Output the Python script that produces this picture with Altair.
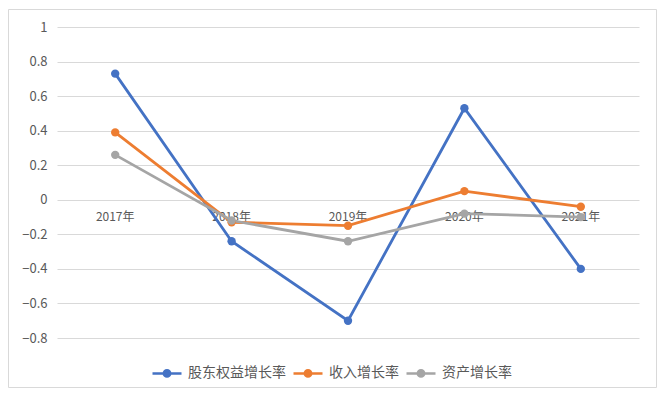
import altair as alt
import pandas as pd

years = ["2017年", "2018年", "2019年", "2020年", "2021年"]
series_names = ["股东权益增长率", "收入增长率", "资产增长率"]
equity = [0.73, -0.24, -0.70, 0.53, -0.40]
revenue = [0.39, -0.13, -0.15, 0.05, -0.04]
assets = [0.26, -0.12, -0.24, -0.08, -0.10]
colors = ["#4472C4", "#ED7D31", "#A5A5A5"]
yticks = [-0.8, -0.6, -0.4, -0.2, 0, 0.2, 0.4, 0.6, 0.8, 1]

rows = []
for si, (name, vals) in enumerate(zip(series_names, [equity, revenue, assets])):
    for yr, v in zip(years, vals):
        rows.append({"year": yr, "value": v, "series": name, "order": si})
df = pd.DataFrame(rows)
lab = pd.DataFrame({"year": years, "value": [0] * len(years)})

W, H = 582, 311
FONT = "Noto Sans CJK SC"

xs = alt.X("year:N", sort=years, scale=alt.Scale(type="point", padding=0.5), axis=None)
yscale = alt.Scale(domain=[-0.8, 1.0001], nice=False, zero=False)
ys = alt.Y("value:Q", scale=yscale,
           axis=alt.Axis(values=yticks, format="~g", title=None, ticks=False, domain=False,
                         labelPadding=10, labelFontSize=13, labelColor="#595959",
                         labelOverlap=False, labelFlush=False,
                         gridColor="#D9D9D9", gridWidth=1, labelFont=FONT))
color_scale = alt.Scale(domain=series_names, range=colors)

color = alt.Color("series:N", scale=color_scale,
                  legend=alt.Legend(orient="none", legendX=94, legendY=330, direction="horizontal",
                                    title=None, labelFontSize=14, labelColor="#595959", labelFont=FONT,
                                    symbolType="M-1,0H1M-0.22,0A0.22,0.22 0 1,1 0.22,0A0.22,0.22 0 1,1 -0.22,0Z",
                                    symbolSize=841, symbolStrokeWidth=2.5, labelOffset=5,
                                    columnPadding=2, symbolOpacity=1))

frame = alt.Chart(alt.Data(values=[{"a": 1}])).mark_rect(
    fillOpacity=0, stroke="#D9D9D9", strokeWidth=1
).encode(x=alt.value(-48.5), x2=alt.value(W + 17.5), y=alt.value(-17.5), y2=alt.value(H + 49.5))

labels = alt.Chart(lab).mark_text(dy=17, fontSize=12, color="#595959", font=FONT).encode(
    x=xs, y=ys, text="year:N")

lines = alt.Chart(df).mark_line(strokeWidth=2.8).encode(
    x=xs, y=ys, color=color, order="order:Q")
points = alt.Chart(df).mark_point(filled=True, size=70, opacity=1).encode(
    x=xs, y=ys, color=color)

chart = alt.layer(frame, labels, lines, points).properties(
    width=W, height=H,
    padding={"left": 49, "top": 19, "right": 18, "bottom": 51},
    autosize=alt.AutoSizeParams(type="none"),
    background="white",
).configure_view(stroke=None)

chart.save("out.html", embed_options={"renderer": "svg", "actions": False})
